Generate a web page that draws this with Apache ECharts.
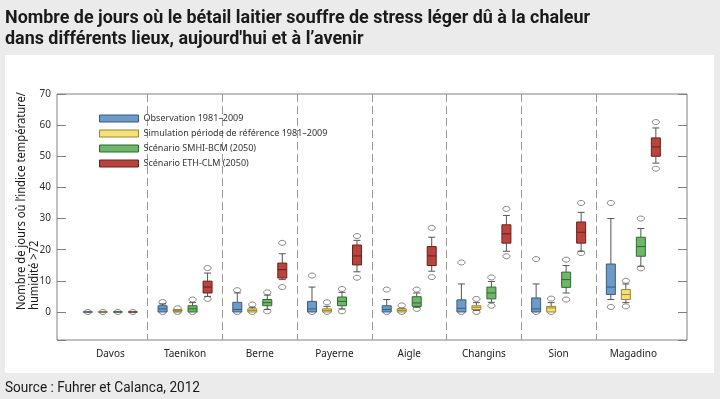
<!DOCTYPE html>
<html>
<head>
<meta charset="utf-8">
<script src="https://cdn.jsdelivr.net/npm/echarts@6/dist/echarts.min.js"></script>
<style>
  html, body { margin: 0; padding: 0; background: #ebebeb; }
  #chart { width: 720px; height: 399px; }
</style>
</head>
<body>
<div id="chart"></div>
<script>
// lieux
var categories = ['Davos', 'Taenikon', 'Berne', 'Payerne', 'Aigle', 'Changins', 'Sion', 'Magadino'];
var seriesNames = ['Observation 1981–2009', 'Simulation période de référence 1981–2009',
  'Scénario SMHI-BCM (2050)', 'Scénario ETH-CLM (2050)'];

// [min, q1, médiane, q3, max] par lieu
var obsBoxes = [[0, 0, 0, 0, 0], [0, 0, 1, 2, 2.6], [0, 0, 0.8, 3.1, 6.1], [0, 0, 1, 3.4, 8],
  [0, 0, 0.8, 2, 4], [0, 0, 1.2, 3.9, 9], [0, 0, 1, 4.5, 9], [4, 5.6, 8, 15.4, 30]];
var simBoxes = [[0, 0, 0, 0, 0], [0, 0.2, 0.5, 0.8, 0.8], [0, 0, 0.5, 1, 1.5], [0, 0, 0.5, 1, 1.8],
  [0, 0, 0.5, 1, 1.2], [0.5, 0.8, 1.5, 2, 3], [0, 0, 1.3, 1.8, 3], [3, 4, 5.6, 7.2, 9]];
var smhiBoxes = [[0, 0, 0, 0, 0], [0, 0, 1, 2, 3], [0.8, 2, 3, 4, 5.4], [1, 2, 3.4, 4.8, 6.3],
  [1.5, 1.8, 2.9, 4.9, 6.1], [3.1, 4.2, 6.1, 8, 9.8], [6.1, 7.9, 10.4, 12.8, 14.9], [14.7, 17.9, 21, 24, 26.8]];
var ethBoxes = [[0, 0, 0, 0, 0], [5, 6.1, 8, 9.9, 12.5], [10.4, 10.9, 13.6, 15.7, 18.7], [12.9, 15.1, 18, 21.5, 23],
  [13.1, 14.9, 18, 21, 24], [19.5, 22.1, 25.1, 28, 31], [19.5, 22.1, 25.6, 28.9, 32], [47.8, 50, 53, 55.9, 59.1]];

// valeurs extrêmes [lieu, valeur]
var obsOut = [[0, 0], [1, 3.2], [1, 0], [2, 7], [2, 0], [3, 11.7], [3, 0], [4, 7.2], [4, 0],
  [5, 15.9], [5, 0], [6, 17], [6, 0], [7, 35], [7, 1.6]];
var simOut = [[0, 0], [1, 1.2], [1, 0], [2, 2.4], [2, 0], [3, 3.1], [3, 0], [4, 2.1], [4, 0],
  [5, 4.2], [5, 0], [6, 4.3], [6, 0], [7, 10], [7, 1.8]];
var smhiOut = [[0, 0], [1, 4], [1, 0], [2, 6.3], [2, 0.2], [3, 7.4], [3, 0.2], [4, 7.2], [4, 1],
  [5, 11.1], [5, 2], [6, 16.8], [6, 4], [7, 30], [7, 14]];
var ethOut = [[0, 0], [1, 14.1], [1, 4.2], [2, 22.2], [2, 8], [3, 24.4], [3, 11], [4, 27], [4, 11.2],
  [5, 33.1], [5, 17.9], [6, 35], [6, 18.9], [7, 61], [7, 46]];

var yTicks = [0, 10, 20, 30, 40, 50, 60, 70];

var fills = ['#6c9bc8', '#f6df78', '#6fb56b', '#b8443d'];
var strokes = ['#3b5b7d', '#9a8633', '#2f6a2f', '#6a201c'];
var boxStep = 15;

function fitScale(text, font, target) {
  var ctx = document.createElement('canvas').getContext('2d');
  ctx.font = font;
  return target / ctx.measureText(text).width;
}

function boxRender(k) {
  return function (params, api) {
    var cat = api.value(0);
    var x = api.coord([cat, 0])[0] + (k - 1.5) * boxStep;
    var yl = api.coord([cat, api.value(1)])[1];
    var y1 = api.coord([cat, api.value(2)])[1];
    var ym = api.coord([cat, api.value(3)])[1];
    var y3 = api.coord([cat, api.value(4)])[1];
    var yh = api.coord([cat, api.value(5)])[1];
    var hw = 4.5, cw = 3.5;
    var ws = { stroke: '#555', lineWidth: 1 };
    var kids = [];
    if (yh < y3 - 0.5) {
      kids.push({ type: 'line', shape: { x1: x, y1: y3, x2: x, y2: yh }, style: ws });
      kids.push({ type: 'line', shape: { x1: x - cw, y1: yh, x2: x + cw, y2: yh }, style: ws });
    }
    if (yl > y1 + 0.5) {
      kids.push({ type: 'line', shape: { x1: x, y1: y1, x2: x, y2: yl }, style: ws });
      kids.push({ type: 'line', shape: { x1: x - cw, y1: yl, x2: x + cw, y2: yl }, style: ws });
    }
    kids.push({ type: 'rect', shape: { x: x - hw, y: y3, width: hw * 2, height: Math.max(y1 - y3, 0) },
      style: { fill: fills[k], stroke: strokes[k], lineWidth: 1 } });
    kids.push({ type: 'line', shape: { x1: x - hw, y1: ym, x2: x + hw, y2: ym },
      style: { stroke: params.dataIndex === 0 ? '#555' : strokes[k], lineWidth: 1 } });
    return { type: 'group', children: kids };
  };
}

function outRender(k) {
  return function (params, api) {
    var p = api.coord([api.value(0), api.value(1)]);
    return { type: 'ellipse', shape: { cx: p[0] + (k - 1.5) * boxStep, cy: p[1], rx: 3.6, ry: 2.5 },
      style: { fill: '#fff', stroke: '#666', lineWidth: 0.8 } };
  };
}

var allBoxes = [obsBoxes, simBoxes, smhiBoxes, ethBoxes];
var allOut = [obsOut, simOut, smhiOut, ethOut];

var series = [];
allOut.forEach(function (arr, k) {
  series.push({ type: 'custom', xAxisIndex: 1, yAxisIndex: 2, z: 2, silent: true,
    renderItem: outRender(k), encode: { x: 0, y: 1 }, data: arr });
});
allBoxes.forEach(function (arr, k) {
  series.push({ type: 'custom', name: seriesNames[k], xAxisIndex: 1, yAxisIndex: 2, z: 3, silent: true,
    itemStyle: { color: fills[k] },
    renderItem: boxRender(k), encode: { x: 0, y: [1, 2, 3, 4, 5] },
    data: arr.map(function (b, i) { return [i].concat(b); }) });
});

var titleFont = 'bold 18px Roboto';
var title1 = 'Nombre de jours où le bétail laitier souffre de stress léger dû à la chaleur';
var title2 = 'dans différents lieux, aujourd\'hui et à l’avenir';
var tScale = fitScale(title1, titleFont, 585);
var srcText = 'Source : Fuhrer et Calanca, 2012';
var srcScale = fitScale(srcText, '15px Roboto', 195);
var yName1 = 'Nombre de jours où l’indice température/';
var yName2 = 'humidité >72';
var yScale = fitScale(yName1, '12px "Noto Sans"', 218);

var yAxisBase = {
  type: 'value', min: -9, max: 70, splitNumber: 8, gridIndex: 0,
  axisLine: { show: false },
  axisTick: { show: true, inside: true, length: 9, lineStyle: { color: '#808080' } },
  splitLine: { show: false }
};

var chart = echarts.init(document.getElementById('chart'));
chart.setOption({
  backgroundColor: '#ebebeb',
  animation: false,
  graphic: [
    { type: 'rect', z: -10, shape: { x: 5, y: 55, width: 709, height: 318 }, style: { fill: '#fff' } },
    { type: 'text', x: 5, y: 18, scaleX: tScale,
      style: { text: title1, font: titleFont, fill: '#1a1a1a', textVerticalAlign: 'middle' } },
    { type: 'text', x: 5, y: 39, scaleX: tScale,
      style: { text: title2, font: titleFont, fill: '#1a1a1a', textVerticalAlign: 'middle' } },
    { type: 'text', x: 5, y: 388, scaleX: srcScale,
      style: { text: srcText, font: '15px Roboto', fill: '#1a1a1a', textVerticalAlign: 'middle' } },
    { type: 'text', x: 22, y: 310, rotation: Math.PI / 2, scaleX: yScale,
      style: { text: yName1, font: '12px "Noto Sans"', fill: '#1a1a1a', textVerticalAlign: 'middle' } },
    { type: 'text', x: 35, y: 310, rotation: Math.PI / 2, scaleX: yScale,
      style: { text: yName2, font: '12px "Noto Sans"', fill: '#1a1a1a', textVerticalAlign: 'middle' } }
  ],
  legend: {
    orient: 'vertical', left: 94, top: 108, itemWidth: 39, itemHeight: 7, itemGap: 4,
    selectedMode: false, icon: 'rect',
    textStyle: { fontSize: 9, color: '#333', fontFamily: 'Noto Sans', lineHeight: 11 },
    data: seriesNames.map(function (n, k) {
      return { name: n, itemStyle: { color: fills[k], borderColor: strokes[k], borderWidth: 1 } };
    })
  },
  grid: [
    { left: 57, right: 33, top: 94, bottom: 59, show: true, borderColor: '#808080', borderWidth: 1 },
    { left: 73, right: 49.3, top: 94, bottom: 59 }
  ],
  xAxis: [
    { type: 'value', gridIndex: 0, min: 0, max: 1, show: false },
    { type: 'category', gridIndex: 1, data: categories,
      axisLine: { show: false }, axisTick: { show: false },
      axisLabel: { interval: 0, margin: 9, fontSize: 10, color: '#222', fontFamily: 'Noto Sans' },
      splitLine: { show: true, interval: 0, showMinLine: false, showMaxLine: false,
        lineStyle: { color: '#999', type: [8, 4], width: 1 } } }
  ],
  yAxis: [
    Object.assign({}, yAxisBase, { position: 'left',
      axisLabel: { margin: 6, fontSize: 10, color: '#333', fontFamily: 'Noto Sans',
        formatter: function (v) { return yTicks.indexOf(v) >= 0 ? String(v) : ''; } } }),
    Object.assign({}, yAxisBase, { position: 'right', axisLabel: { show: false } }),
    { type: 'value', gridIndex: 1, min: -9, max: 70, show: false }
  ],
  series: series
});
</script>
</body>
</html>
